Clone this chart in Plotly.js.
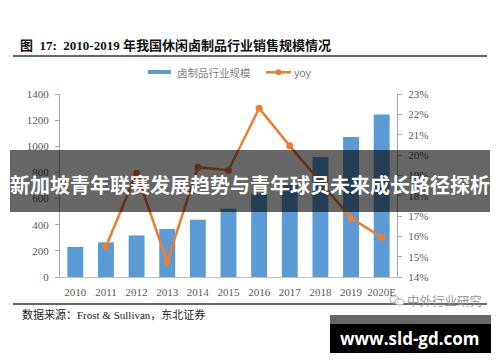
<!DOCTYPE html>
<html>
<head>
<meta charset="utf-8">
<script src="https://cdn.plot.ly/plotly-3.0.1.min.js"></script>
<style>html,body{margin:0;padding:0;background:#fff;}#chart{width:500px;height:362px;}</style>
</head>
<body>
<div id="chart"></div>
<script>
// ---- data ----
const years = ['2010','2011','2012','2013','2014','2015','2016','2017','2018','2019','2020E'];
const scaleValues = [230, 265, 318, 367, 438, 522, 637, 706, 918, 1071, 1244];
const yoyValues = [null, 15.5, 19.1, 14.75, 19.4, 19.25, 22.3, 20.45, 18.7, 16.9, 15.95];
const leftTicks = [0, 200, 400, 600, 800, 1000, 1200, 1400];
const rightTicks = [14, 15, 16, 17, 18, 19, 20, 21, 22, 23];
const rightTickLabels = ['14%', '15%', '16%', '17%', '18%', '19%', '20%', '21%', '22%', '23%'];
const seriesNames = ['卤制品行业规模', 'yoy'];
const titleText = '图  17:  2010-2019 年我国休闲卤制品行业销售规模情况';
const sourceText = '数据来源：Frost & Sullivan，东北证券';
const bannerText = '新加坡青年联赛发展趋势与青年球员未来成长路径探析';
const siteText = 'www.sld-gd.com';
const watermarkText = '中外行业研究';

// ---- layout helpers (pixel -> paper) ----
const L = 60, R = 397, T = 94, B = 277;
const px = p => (p - L) / (R - L);
const py = p => (B - p) / (B - T);

const BLUE = '#5b9bd5', ORANGE = '#ed7d31', GREY = '#595959';
const serif = '"Liberation Serif", "Times New Roman", "Noto Sans CJK SC", serif';

const traces = [
  {type: 'bar', x: years, y: scaleValues, name: seriesNames[0],
   marker: {color: BLUE}, width: 0.52, yaxis: 'y', hoverinfo: 'skip'},
  {type: 'scatter', mode: 'lines+markers', x: years, y: yoyValues, name: seriesNames[1],
   line: {color: ORANGE, width: 2.5}, marker: {color: ORANGE, size: 7},
   yaxis: 'y2', connectgaps: false, hoverinfo: 'skip'}
];

const shapes = [
  // title underline
  {type: 'line', xref: 'paper', yref: 'paper', x0: px(13), x1: px(487), y0: py(56), y1: py(56),
   line: {color: '#333', width: 1.5}},
  // bottom rule
  {type: 'line', xref: 'paper', yref: 'paper', x0: px(13), x1: px(487), y0: py(304), y1: py(304),
   line: {color: '#333', width: 1.5}},
  // legend: bar swatch
  {type: 'rect', xref: 'paper', yref: 'paper', x0: px(148), x1: px(171), y0: py(70), y1: py(74),
   fillcolor: BLUE, line: {width: 0}},
  // legend: line swatch
  {type: 'line', xref: 'paper', yref: 'paper', x0: px(266), x1: px(291), y0: py(72.3), y1: py(72.3),
   line: {color: ORANGE, width: 2.5}},
  {type: 'circle', xref: 'paper', yref: 'paper', x0: px(275.5), x1: px(281.5), y0: py(69.3), y1: py(75.3),
   fillcolor: ORANGE, line: {width: 0}},
  // watermark icon (two small bubbles)
  {type: 'circle', xref: 'paper', yref: 'paper', x0: px(390), x1: px(399), y0: py(296), y1: py(303),
   fillcolor: 'rgba(255,255,255,0.9)', line: {color: '#aaa', width: 1}},
  {type: 'circle', xref: 'paper', yref: 'paper', x0: px(395), x1: px(404), y0: py(299), y1: py(305),
   fillcolor: 'rgba(255,255,255,0.9)', line: {color: '#aaa', width: 1}},
  // overlay banner
  {type: 'rect', xref: 'paper', yref: 'paper', x0: px(10), x1: px(490), y0: py(150), y1: py(212),
   fillcolor: 'rgba(0,0,0,0.6)', line: {width: 0}, layer: 'above'},
  // site banner
  {type: 'rect', xref: 'paper', yref: 'paper', x0: px(330), x1: px(491), y0: py(315), y1: py(324),
   fillcolor: 'rgba(0,0,0,0.6)', line: {width: 0}, layer: 'above'},
  {type: 'rect', xref: 'paper', yref: 'paper', x0: px(330), x1: px(491), y0: py(324), y1: py(353),
   fillcolor: '#000', line: {width: 0}, layer: 'above'}
];

const annotations = [
  {xref: 'paper', yref: 'paper', x: px(175), y: py(72), xanchor: 'left', yanchor: 'middle',
   text: seriesNames[0], showarrow: false,
   font: {family: '"Noto Sans CJK SC", sans-serif', size: 10.5, color: '#7f7f7f'}},
  {xref: 'paper', yref: 'paper', x: px(292), y: py(72.5), xanchor: 'left', yanchor: 'middle',
   text: seriesNames[1], showarrow: false,
   font: {family: '"Liberation Sans", Arial, sans-serif', size: 11, color: '#7f7f7f'}},
  {xref: 'paper', yref: 'paper', x: px(20), y: py(314), xanchor: 'left', yanchor: 'middle',
   text: sourceText, showarrow: false,
   font: {family: serif, size: 11, color: '#222'}},
  {xref: 'paper', yref: 'paper', x: px(405), y: py(300), xanchor: 'left', yanchor: 'middle',
   text: watermarkText, showarrow: false,
   font: {family: '"Noto Sans CJK SC", sans-serif', size: 12.5, color: '#999'}},
  {xref: 'paper', yref: 'paper', x: px(250), y: py(184), xanchor: 'center', yanchor: 'middle',
   text: '<b>' + bannerText + '</b>', showarrow: false,
   font: {family: '"Noto Sans CJK SC", sans-serif', size: 20, color: '#fff'}},
  {xref: 'paper', yref: 'paper', x: px(410), y: py(338.5), xanchor: 'center', yanchor: 'middle',
   text: '<b>' + siteText + '</b>', showarrow: false,
   font: {family: '"Open Sans", sans-serif', size: 17, color: '#fff'}}
];

const axisFont = {family: serif, size: 11, color: GREY};

const layout = {
  width: 500, height: 362,
  margin: {l: L, r: 500 - R, t: T, b: 362 - B, pad: 0},
  paper_bgcolor: '#fff', plot_bgcolor: 'rgba(0,0,0,0)',
  showlegend: false,
  title: {text: '<b>' + titleText + '</b>', x: 20 / 500, xanchor: 'left', xref: 'container',
          y: 1 - 45 / 362, yanchor: 'middle', yref: 'container',
          font: {family: serif, size: 13, color: '#111'}},
  xaxis: {type: 'category', range: [-0.5, 10.5], showline: true, linecolor: '#bfbfbf', linewidth: 1,
          ticks: '', showgrid: false, zeroline: false, tickfont: axisFont, ticklabelstandoff: 5,
          fixedrange: true},
  yaxis: {range: [0, 1400], tickvals: leftTicks, showline: true, linecolor: '#a6a6a6', linewidth: 1,
          ticks: 'outside', ticklen: 4, tickcolor: '#a6a6a6', showgrid: false, zeroline: false,
          tickfont: axisFont, ticklabelstandoff: 4, fixedrange: true},
  yaxis2: {range: [14, 23], tickmode: 'array', tickvals: rightTicks, ticktext: rightTickLabels,
           overlaying: 'y', side: 'right',
           showline: true, linecolor: '#a6a6a6', linewidth: 1, ticks: 'outside', ticklen: 4,
           tickcolor: '#a6a6a6', showgrid: false, zeroline: false, tickfont: axisFont,
           ticklabelstandoff: 4, fixedrange: true},
  shapes: shapes,
  annotations: annotations
};

Plotly.newPlot('chart', traces, layout, {displayModeBar: false, staticPlot: true});
</script>
</body>
</html>
